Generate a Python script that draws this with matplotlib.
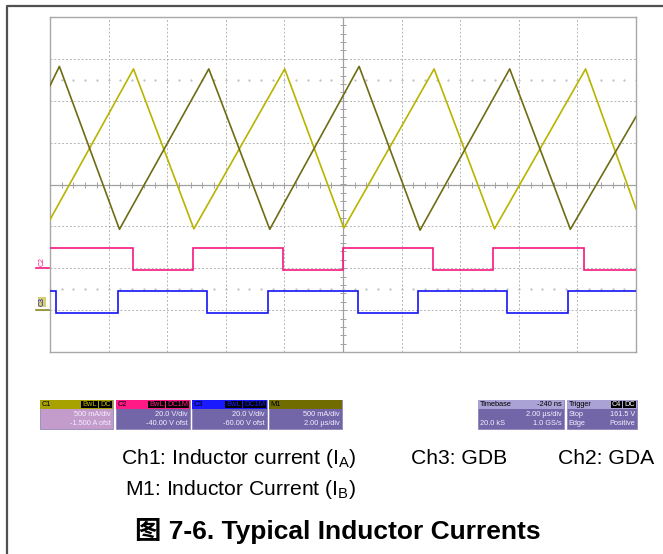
import numpy as np
import matplotlib
matplotlib.use("Agg")
import matplotlib.pyplot as plt
from matplotlib.patches import Rectangle
from matplotlib.transforms import blended_transform_factory

plt.rcParams['font.family'] = ['Liberation Sans', 'Noto Sans CJK SC', 'DejaVu Sans']
plt.rcParams['mathtext.fontset'] = 'custom'
plt.rcParams['mathtext.rm'] = 'Liberation Sans'
plt.rcParams['mathtext.it'] = 'Liberation Sans:italic'

# scope settings (scale per div, offset)
T_DIV = 2.0                      # us/div
C1_SCALE, C1_OFST = 0.5, -1.5    # A
C2_SCALE, C2_OFST = 20.0, -40.0  # V
C3_SCALE, C3_OFST = 20.0, -60.0  # V
M1_SCALE, M1_OFST = 0.5, -1.5    # A

# Ch1: inductor current I_A, triangle corners (us, A)
ia_t = [0.0, 2.85, 4.91, 8.01, 10.03, 13.11, 15.17, 18.28, 20.0]
ia_a = [1.08, 2.88, 0.97, 2.88, 0.98, 2.88, 0.97, 2.88, 1.21]

# M1: inductor current I_B (us, A)
ib_t = [0.0, 0.32, 2.37, 5.42, 7.50, 10.55, 12.63, 15.69, 17.76, 20.0]
ib_a = [2.68, 2.91, 0.965, 2.88, 0.965, 2.91, 0.955, 2.88, 0.965, 2.31]

# Ch2: GDA gate drive, edges (us) and levels (V)
gda_edges = [0.0, 2.82, 4.88, 7.95, 10.0, 13.06, 15.13, 18.21, 20.0]
gda_v = [9.5, -0.9, 9.5, -0.9, 9.5, -0.9, 9.5, -0.9]

# Ch3: GDB gate drive
gdb_edges = [0.0, 0.22, 2.31, 5.36, 7.43, 10.51, 12.57, 15.61, 17.69, 20.0]
gdb_v = [9.1, -1.6, 9.1, -1.6, 9.1, -1.6, 9.1, -1.6, 9.1]


def to_div(v, scale, ofst):
    return (np.asarray(v) + ofst) / scale


W, H = 663, 554
fig = plt.figure(figsize=(W / 100, H / 100), dpi=100)
renderer = fig.canvas.get_renderer()

# overlay in pixel coords for frame, info boxes and caption
ov = fig.add_axes([0, 0, 1, 1])
ov.set_xlim(0, W)
ov.set_ylim(H, 0)
ov.axis('off')
ov.plot([7, 7, W], [H, 5.5, 5.5], color='#505050', lw=1.6, solid_capstyle='butt')

# scope grid
px0, px1, py0, py1 = 50, 636, 17, 352
ax = fig.add_axes([px0 / W, (H - py1) / H, (px1 - px0) / W, (py1 - py0) / H])
ax.set_facecolor('none')
ax.set_xlim(0, 10 * T_DIV)
ax.set_ylim(-4, 4)
ax.set_xticks([])
ax.set_yticks([])
for s in ax.spines.values():
    s.set_color('#a8a8a8')
    s.set_linewidth(1.0)

grid_kw = dict(color='#b4b4b4', lw=0.7, ls=(0, (2, 2)), zorder=1)
for i in range(1, 10):
    if i != 5:
        ax.axvline(i * T_DIV, **grid_kw)
for j in range(-3, 4):
    if j != 0:
        ax.axhline(j, **grid_kw)
ax.axvline(5 * T_DIV, color='#a0a0a0', lw=0.9, zorder=1)
ax.axhline(0, color='#a0a0a0', lw=0.9, zorder=1)
tx = np.arange(0, 10 * T_DIV + 0.01, 0.2 * T_DIV)
ax.plot(tx, np.zeros_like(tx), ls='none', marker='|', ms=4, mew=0.7, color='#a0a0a0', zorder=1)
ty = np.arange(-4, 4.01, 0.2)
ax.plot(np.full_like(ty, 5 * T_DIV), ty, ls='none', marker='_', ms=4, mew=0.7, color='#a0a0a0', zorder=1)
for lvl in (2.5, -2.5):
    ax.plot(tx, np.full_like(tx, lvl), ls='none', marker='.', ms=1.2, color='#bcbcbc', zorder=1)

# traces
ax.plot(ia_t, to_div(ia_a, C1_SCALE, C1_OFST), color='#b8b400', lw=1.2, zorder=3)
ax.plot(ib_t, to_div(ib_a, M1_SCALE, M1_OFST), color='#6e6c14', lw=1.2, zorder=3)
ax.stairs(to_div(gda_v, C2_SCALE, C2_OFST), gda_edges, baseline=None, color='#f5187e', lw=1.2, zorder=3)
ax.stairs(to_div(gdb_v, C3_SCALE, C3_OFST), gdb_edges, baseline=None, color='#1414f5', lw=1.2, zorder=3)

# ground-level markers on the left
tr = blended_transform_factory(ax.transAxes, ax.transData)
ax.plot([-14 / 586, 0], [to_div(0, C2_SCALE, C2_OFST)] * 2, color='#f5187e', lw=1.2, transform=tr, clip_on=False)
ax.text(-8 / 586, -1.85, 'C2', rotation=90, color='#f5187e', fontsize=5, ha='center', va='center',
        transform=tr, clip_on=False)
ax.plot([-14 / 586, 0], [to_div(0, C3_SCALE, C3_OFST)] * 2, color='#8a8620', lw=1.2, transform=tr, clip_on=False)
ax.text(-8 / 586, -2.8, 'C3', rotation=90, color='#1414c0', fontsize=5, ha='center', va='center',
        transform=tr, clip_on=False,
        bbox=dict(boxstyle='square,pad=0.1', fc='#d8d070', ec='none'))


def info_box(x0, x1, head_fc, body_fc, title, title_c, right_head, line1, line2, badge_c=None):
    y0, yh, y1 = 400, 408.5, 429
    ym = (y0 + yh) / 2 + 0.3
    ov.add_patch(Rectangle((x0, y0), x1 - x0, y1 - y0, fc=body_fc, ec='#9088b8', lw=0.6))
    ov.add_patch(Rectangle((x0, y0), x1 - x0, yh - y0, fc=head_fc, ec='none'))
    ov.text(x0 + 1.5, ym, title, fontsize=5.3, color=title_c, ha='left', va='center')
    if badge_c is not None:
        # badges laid out right to left, each in its own black box
        xr = x1 - 2
        for b in reversed(right_head.split()):
            t = ov.text(xr, ym, b, fontsize=5.3, color=badge_c, ha='right', va='center')
            bw = t.get_window_extent(renderer).width
            ov.add_patch(Rectangle((xr - bw - 1, y0 + 1), bw + 2, yh - y0 - 2, fc='black', ec='none'))
            xr -= bw + 3.5
    elif right_head:
        ov.text(x1 - 2, ym, right_head, fontsize=5.3, color='black', ha='right', va='center')
    for yy, line in ((414.5, line1), (423.5, line2)):
        left, right = line
        if left:
            ov.text(x0 + 1.5, yy, left, fontsize=5.3, color='#f4f0ff', ha='left', va='center')
        if right:
            ov.text(x1 - 2, yy, right, fontsize=5.3, color='#f4f0ff', ha='right', va='center')


info_box(40, 113, '#a8a200', '#c49ccc', 'C1', 'black', 'BwL DC', ('', '500 mA/div'), ('', '-1.500 A ofst'), '#b8b400')
info_box(116, 190, '#ff1a86', '#7266a8', 'C2', 'black', 'BwL DC1M', ('', '20.0 V/div'), ('', '-40.00 V ofst'), '#ff1a86')
info_box(192, 267, '#1a1aff', '#7266a8', 'C3', 'black', 'BwL DC1M', ('', '20.0 V/div'), ('', '-60.00 V ofst'), '#1a1aff')
info_box(269, 342, '#706c00', '#7266a8', 'M1', 'black', '', ('', '500 mA/div'), ('', '2.00 µs/div'))
info_box(478, 564, '#aaa2d4', '#7266a8', 'Timebase', 'black', '-240 ns', ('', '2.00 µs/div'), ('20.0 kS', '1.0 GS/s'))
info_box(567, 637, '#aaa2d4', '#7266a8', 'Trigger', 'black', 'C4 DC', ('Stop', '161.5 V'), ('Edge', 'Positive'), 'white')

# caption
cap_kw = dict(fontsize=15.2, color='black', ha='left', va='baseline')
ov.text(121, 464, r'Ch1: Inductor current (I$_{\rm A}$)', **cap_kw)
ov.text(411, 464, 'Ch3: GDB', **cap_kw)
ov.text(558, 464, 'Ch2: GDA', **cap_kw)
ov.text(125, 495, r'M1: Inductor Current (I$_{\rm B}$)', **cap_kw)
ov.text(135, 539, '图 7-6. Typical Inductor Currents', fontsize=19, fontweight='bold', color='black',
        ha='left', va='baseline')

fig.savefig('out.png', dpi=100)
